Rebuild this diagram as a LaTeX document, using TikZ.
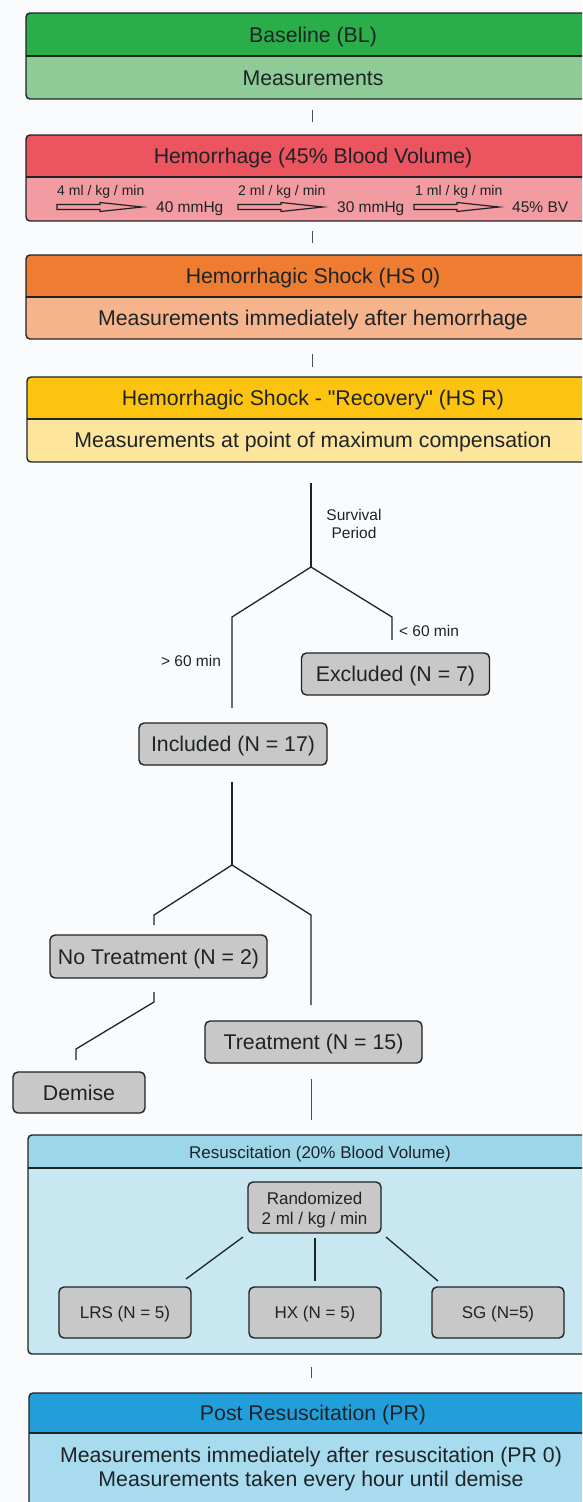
\documentclass[tikz,border=0pt]{standalone}
\usepackage{fontspec}
\setmainfont{Liberation Sans}
\newfontfamily\qfam{Liberation Sans}
\definecolor{bgc}{HTML}{FAFBFD}
\definecolor{ink}{HTML}{1E2326}
\definecolor{blH}{HTML}{2AAE4A}\definecolor{blB}{HTML}{8ECB97}
\definecolor{heH}{HTML}{EC5460}\definecolor{heB}{HTML}{F29BA1}
\definecolor{hsH}{HTML}{EE7D31}\definecolor{hsB}{HTML}{F6B48C}
\definecolor{hrH}{HTML}{FDC40F}\definecolor{hrB}{HTML}{FDE69C}
\definecolor{reH}{HTML}{9DD6E8}\definecolor{reB}{HTML}{C8E7F1}
\definecolor{prH}{HTML}{229FDA}\definecolor{prB}{HTML}{A8DBEE}
\definecolor{gfill}{HTML}{C8C8C8}
\newcommand\stagebox[6]{%
  \begin{scope}
    \clip[rounded corners=4pt] (#6,#1) rectangle (620,#3);
    \fill[#5] (#6,#1) rectangle (620,#3);
    \fill[#4] (#6,#1) rectangle (620,#2);
  \end{scope}
  \draw[ink, line width=1.4pt, rounded corners=4pt] (#6,#1) rectangle (620,#3);
  \draw[ink, line width=1.4pt] (#6,#2) -- (620,#2);
}
\newcommand\hollowarr[2]{%
  \draw[ink, line width=1.2pt, line join=miter] (#1,#2-2.5) -- (#1+43,#2-2.5) -- (#1+43,#2-4.5) -- (#1+85,#2) -- (#1+43,#2+4.5) -- (#1+43,#2+2.5) -- (#1,#2+2.5) -- cycle;
}
\begin{document}
\begin{tikzpicture}[x=1pt,y=-1pt,
  big/.style={font=\fontsize{21.3}{25}\selectfont, inner sep=0pt, text height=15pt, text depth=0pt, text=ink},
  med/.style={font=\fontsize{17}{20}\selectfont, inner sep=0pt, text height=12.2pt, text depth=0pt, text=ink},
  sml/.style={font=\fontsize{15.5}{18}\selectfont, inner sep=0pt, text height=11.1pt, text depth=0pt, text=ink},
  xsm/.style={font=\fontsize{14}{16}\selectfont, inner sep=0pt, text height=10pt, text depth=0pt, text=ink},
  gbox/.style={draw=ink, fill=gfill, line width=1.4pt, rounded corners=5pt, inner sep=0pt, text=ink},
  conn/.style={draw=ink, line width=1.3pt, line join=miter},
  tick/.style={draw=ink!80, line width=1pt}
]
\useasboundingbox (0,0) rectangle (582,1502);
\clip (0,0) rectangle (582,1502);
\fill[bgc] (0,0) rectangle (582,1502);

% ---------- stage boxes ----------
\stagebox{13}{56}{99}{blH}{blB}{26}
\node[big] (blh) at (313,35) {Baseline (BL)};
\node[big] (blb) at (313,78) {Measurements};

\coordinate (t1a) at (312,110); \coordinate (t1b) at (312,122);
\draw[tick] (t1a) -- (t1b);

\stagebox{135}{177}{221}{heH}{heB}{26}
\node[big] (heh) at (313,156) {Hemorrhage (45\% Blood Volume)};
\node[xsm, anchor=west] (r1) at (57,190) {4 ml / kg / min};
\node[xsm, anchor=west] (r2) at (238,190) {2 ml / kg / min};
\node[xsm, anchor=west] (r3) at (415,190) {1 ml / kg / min};
\hollowarr{57}{207}
\hollowarr{238}{207}
\hollowarr{414}{207}
\node[sml, anchor=west] (p1) at (156,207) {40 mmHg};
\node[sml, anchor=west] (p2) at (337,207) {30 mmHg};
\node[sml, anchor=west] (p3) at (512,207) {45\% BV};

\coordinate (t2a) at (312,231); \coordinate (t2b) at (312,243);
\draw[tick] (t2a) -- (t2b);

\stagebox{255}{297}{339}{hsH}{hsB}{26}
\node[big] (hsh) at (313,276) {Hemorrhagic Shock (HS 0)};
\node[big] (hsb) at (313,318) {Measurements immediately after hemorrhage};

\coordinate (t3a) at (312,354); \coordinate (t3b) at (312,367);
\draw[tick] (t3a) -- (t3b);

\stagebox{377}{419}{462}{hrH}{hrB}{27}
\node[big] (hrh) at (313,398) {Hemorrhagic Shock - {\qfam"}Recovery{\qfam"} (HS R)};
\node[big] (hrb) at (313,440) {Measurements at point of maximum compensation};

% ---------- survival tree ----------
\coordinate (s0) at (311,483);
\coordinate (s1) at (311,567);
\coordinate (sl1) at (232,617); \coordinate (sl2) at (232,708);
\coordinate (sr1) at (392,617); \coordinate (sr2) at (392,640);
\draw[conn] (s0) -- (s1);
\draw[conn] (s1) -- (sl1) -- (sl2);
\draw[conn] (s1) -- (sr1) -- (sr2);
\node[sml] (surv1) at (354,515) {Survival};
\node[sml] (surv2) at (354,533) {Period};
\node[sml] (gt) at (191,661) {> 60 min};
\node[sml] (lt) at (429,631) {< 60 min};

\node[gbox, big, minimum width=188pt, minimum height=42pt] (excl) at (395.5,674) {Excluded (N = 7)};
\node[gbox, big, minimum width=188pt, minimum height=42pt] (incl) at (233,744) {Included (N = 17)};

% ---------- treatment tree ----------
\coordinate (u0) at (232,782);
\coordinate (u1) at (232,865);
\coordinate (ul1) at (154,915); \coordinate (ul2) at (154,925);
\coordinate (ur1) at (311,915); \coordinate (ur2) at (311,1005);
\draw[conn] (u0) -- (u1);
\draw[conn] (u1) -- (ul1) -- (ul2);
\draw[conn] (u1) -- (ur1) -- (ur2);

\node[gbox, big, minimum width=217pt, minimum height=43pt] (notr) at (158.5,956.5) {No Treatment (N = 2)};
\coordinate (d0) at (154,992); \coordinate (d1) at (154,1002);
\coordinate (d2) at (76,1049); \coordinate (d3) at (76,1060);
\draw[conn] (d0) -- (d1) -- (d2) -- (d3);
\node[gbox, big, minimum width=132pt, minimum height=41pt] (dem) at (79,1092.5) {Demise};
\node[gbox, big, minimum width=217pt, minimum height=42pt] (treat) at (313.5,1042) {Treatment (N = 15)};

\coordinate (v0) at (311,1079); \coordinate (v1) at (311,1120);
\draw[tick] (v0) -- (v1);

% ---------- resuscitation ----------
\stagebox{1135}{1168}{1354}{reH}{reB}{28}
\node[med] (reh) at (320,1152) {Resuscitation (20\% Blood Volume)};
\node[gbox, minimum width=133pt, minimum height=51pt] (rand) at (314.5,1207.5) {};
\node[med] (rand1) at (314.5,1198) {Randomized};
\node[med] (rand2) at (314.5,1218) {2 ml / kg / min};
\node[gbox, med, minimum width=132pt, minimum height=51pt] (lrs) at (125,1312.5) {LRS (N = 5)};
\node[gbox, med, minimum width=132pt, minimum height=51pt] (hx) at (315,1312.5) {HX (N = 5)};
\node[gbox, med, minimum width=132pt, minimum height=51pt] (sg) at (498,1312.5) {SG (N=5)};
\coordinate (ra) at (243,1237); \coordinate (rb) at (186,1279);
\coordinate (rc) at (315,1238); \coordinate (rd) at (315,1281);
\coordinate (re) at (386,1237); \coordinate (rf) at (438,1281);
\draw[conn] (ra) -- (rb);
\draw[conn] (rc) -- (rd);
\draw[conn] (re) -- (rf);

\coordinate (t4a) at (311,1367); \coordinate (t4b) at (311,1378);
\draw[tick] (t4a) -- (t4b);

% ---------- post resuscitation ----------
\stagebox{1393}{1433}{1530}{prH}{prB}{29}
\node[big] (prh) at (313,1413) {Post Resuscitation (PR)};
\node[big] (prb1) at (311,1455) {Measurements immediately after resuscitation (PR 0)};
\node[big] (prb2) at (311,1479) {Measurements taken every hour until demise};
\end{tikzpicture}
\end{document}
